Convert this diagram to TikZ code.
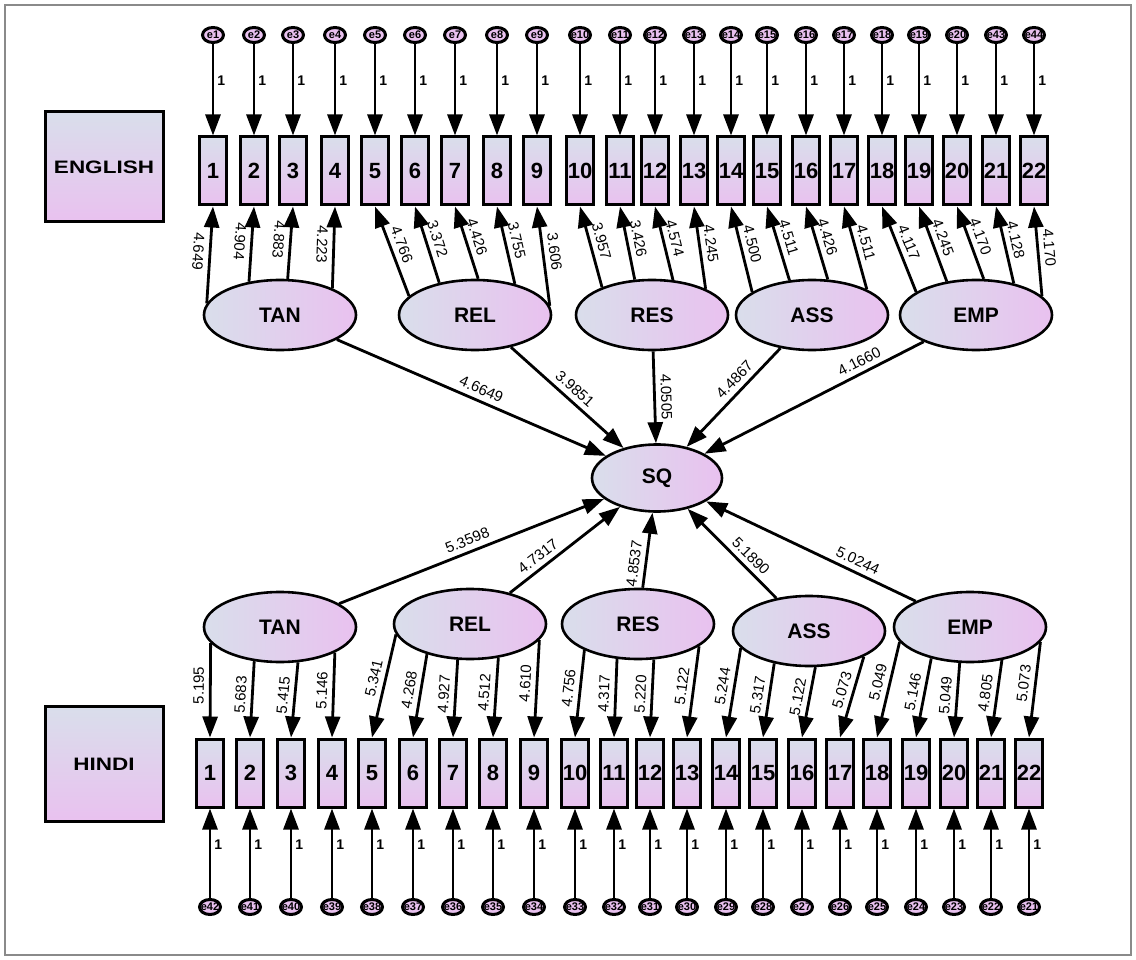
\documentclass[tikz,border=0pt]{standalone}
\usepackage{graphicx}
\usepackage{fontspec}
\setmainfont{Liberation Sans}
\usetikzlibrary{arrows.meta, positioning, shapes.geometric}

\definecolor{semtop}{HTML}{D9DEEB}
\definecolor{sembot}{HTML}{E9C1EF}
\definecolor{frame}{HTML}{8A8A8A}

\begin{document}
\begin{tikzpicture}[
  x=1pt, y=-1pt,
  >={Triangle[width=15pt,length=21pt]},
  every node/.style={font=\fontsize{13}{15}\selectfont},
  item/.style={rectangle, draw, line width=3pt, minimum width=27pt,
               minimum height=68pt, inner sep=0pt, top color=semtop,
               bottom color=sembot, font=\fontsize{22}{24}\selectfont\bfseries},
  latent/.style={ellipse, draw, line width=2.6pt, minimum width=152pt,
                 minimum height=70pt, inner sep=0pt, left color=semtop,
                 right color=sembot, font=\fontsize{21}{24}\selectfont\bfseries},
  err/.style={ellipse, draw, line width=3pt, minimum width=21pt,
              minimum height=15pt, inner sep=0pt, fill=sembot},
  err name/.style={font=\fontsize{11}{12}\selectfont\bfseries, inner sep=0pt},
  group/.style={rectangle, draw, line width=3pt, minimum width=118pt,
                minimum height=110pt, top color=semtop, bottom color=sembot,
                font=\fontsize{18}{20}\selectfont\bfseries},
  link/.style={line width=2.8pt},
  one label/.style={font=\fontsize{14}{15}\selectfont\bfseries, inner sep=3pt},
  load label/.style={sloped, allow upside down, inner sep=5pt,
                     font=\fontsize{15}{16}\selectfont},
  path label/.style={sloped, above, inner sep=5pt,
                     font=\fontsize{15}{16}\selectfont}
]
  \useasboundingbox (0,0) rectangle (1136,960);
  \draw[frame, line width=1.6pt] (5,5) rectangle (1131,955);

  % groups
  \node[group] (english) at (104,167) {\scalebox{1.25}[1]{ENGLISH}};
  \node[group, minimum height=115pt] (hindi) at (104,764) {\scalebox{1.25}[1]{HINDI}};

  % indicators and their errors
  \foreach \x [count=\i] in {213,254,293,335,375,415,455,497,537,580,620,655,
                             694,731,767,806,844,882,919,957,996,1034} {
    \pgfmathtruncatemacro\en{\i<21 ? \i : \i+22}
    \node[item] (t\i) at (\x,171) {\i};
    \node[err, label={[err name]center:e\en}] (et\i) at (\x,35) {};
    \draw[link, ->] (et\i) -- node[one label, right, pos=0.4]{1} (t\i);
  }
  \foreach \x [count=\i] in {210,250,291,332,372,413,453,493,534,575,614,650,
                             687,726,763,802,840,877,916,954,991,1029} {
    \pgfmathtruncatemacro\en{43-\i}
    \node[item] (b\i) at (\x,773) {\i};
    \node[err, label={[err name]center:e\en}] (eb\i) at (\x,907) {};
    \draw[link, ->] (eb\i) -- node[one label, right, pos=0.6]{1} (b\i);
  }

  % latent factors
  \node[latent] (tTAN) at (280,315) {TAN};
  \node[latent] (tREL) at (475,315) {REL};
  \node[latent] (tRES) at (652,315) {RES};
  \node[latent] (tASS) at (812,315) {ASS};
  \node[latent] (tEMP) at (976,315) {EMP};
  \node[latent, minimum width=130pt, minimum height=67pt] (SQ) at (657,478) {SQ};
  \node[latent] (bTAN) at (280,627) {TAN};
  \node[latent] (bREL) at (470,624) {REL};
  \node[latent] (bRES) at (638,624) {RES};
  \node[latent] (bASS) at (809,631) {ASS};
  \node[latent] (bEMP) at (970,627) {EMP};

  % english loadings
  \foreach \i/\lat/\cx/\tx/\val/\side in {
      1/TAN/280/208/4.649/below, 2/TAN/280/250/4.904/below,
      3/TAN/280/287/4.883/below, 4/TAN/280/330/4.223/below,
      5/REL/475/410/4.766/above, 6/REL/475/440/3.372/above,
      7/REL/475/478/4.426/above, 8/REL/475/513/3.755/above,
      9/REL/475/548/3.606/above, 10/RES/652/603/3.957/above,
      11/RES/652/635/3.426/above, 12/RES/652/672/4.574/above,
      13/RES/652/703/4.245/above, 14/ASS/812/753/4.500/above,
      15/ASS/812/790/4.511/above, 16/ASS/812/827/4.426/above,
      17/ASS/812/865/4.511/above, 18/EMP/976/917/4.117/above,
      19/EMP/976/947/4.245/above, 20/EMP/976/983/4.170/above,
      21/EMP/976/1012/4.128/above, 22/EMP/976/1040/4.170/above} {
    \pgfmathsetmacro\ang{atan2(35*sqrt(max(0,1-((\tx-\cx)/76)^2)), \tx-\cx)}
    \draw[link, <-] (t\i.south) -- node[load label, \side, pos=0.47]{\val} (t\lat.\ang);
  }

  % hindi loadings
  \foreach \i/\lat/\cx/\tx/\val in {
      1/TAN/280/212/5.195, 2/TAN/280/255/5.683, 3/TAN/280/297/5.415,
      4/TAN/280/333/5.146, 5/REL/470/397/5.341, 6/REL/470/428/4.268,
      7/REL/470/458/4.927, 8/REL/470/497/4.512, 9/REL/470/537/4.610,
      10/RES/638/585/4.756, 11/RES/638/617/4.317, 12/RES/638/653/5.220,
      13/RES/638/697/5.122, 14/ASS/809/742/5.244, 15/ASS/809/775/5.317,
      16/ASS/809/815/5.122, 17/ASS/809/862/5.073, 18/EMP/970/900/5.049,
      19/EMP/970/932/5.146, 20/EMP/970/960/5.049, 21/EMP/970/1000/4.805,
      22/EMP/970/1038/5.073} {
    \pgfmathsetmacro\ang{atan2(-35*sqrt(max(0,1-((\tx-\cx)/76)^2)), \tx-\cx)}
    \draw[link, <-] (b\i.north) -- node[load label, above, pos=0.55]{\val} (b\lat.\ang);
  }

  % structural paths
  \draw[link, ->] (tTAN) -- node[path label, pos=0.52]{4.6649} (SQ);
  \draw[link, ->] (tREL) -- node[path label, pos=0.5]{3.9851} (SQ);
  \draw[link, ->] (tRES) -- node[path label, pos=0.5]{4.0505} (SQ);
  \draw[link, ->] (tASS) -- node[path label, pos=0.4]{4.4867} (SQ);
  \draw[link, ->] (tEMP) -- node[path label, pos=0.27]{4.1660} (SQ);
  \draw[link, ->] (bTAN) -- node[path label, pos=0.5]{5.3598} (SQ);
  \draw[link, ->] (bREL) -- node[path label, pos=0.32]{4.7317} (SQ);
  \draw[link, ->] (bRES) -- node[path label, pos=0.3]{4.8537} (SQ);
  \draw[link, ->] (bASS) -- node[path label, pos=0.38]{5.1890} (SQ);
  \draw[link, ->] (bEMP) -- node[path label, pos=0.3]{5.0244} (SQ);
\end{tikzpicture}
\end{document}
